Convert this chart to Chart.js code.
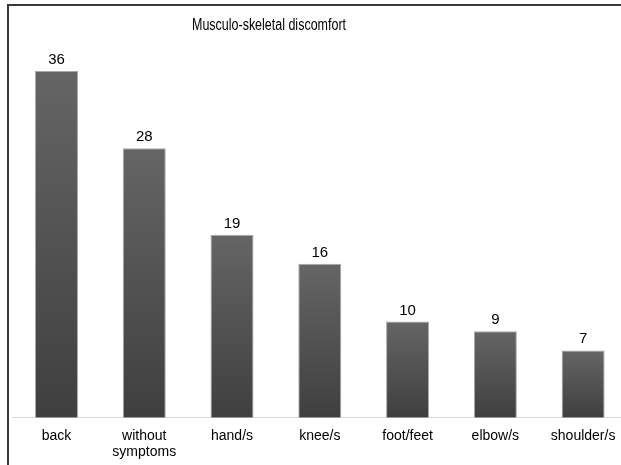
<!DOCTYPE html>
<html>
<head>
<meta charset="utf-8">
<title>Musculo-skeletal discomfort</title>
<script src="https://cdn.jsdelivr.net/npm/chart.js@4"></script>
<style>
  html, body { margin: 0; padding: 0; background: #fff; overflow: hidden; }
  #wrap { position: relative; width: 621px; height: 465px; overflow: hidden; }
  #frame {
    position: absolute; left: 7px; top: 4px; width: 700px; height: 500px;
    border-top: 2px solid #3a3a3a; border-left: 2px solid #3a3a3a;
    pointer-events: none;
  }
  canvas { position: absolute; left: 0; top: 0; }
</style>
</head>
<body>
<div id="wrap">
  <canvas id="mainChart" width="640" height="476" style="width:640px;height:476px"></canvas>
  <div id="frame"></div>
</div>
<script>
const chartTitle = 'Musculo-skeletal discomfort';
const categories = ['back', ['without', 'symptoms'], 'hand/s', 'knee/s', 'foot/feet', 'elbow/s', 'shoulder/s'];
const counts = [36, 28, 19, 16, 10, 9, 7];
const yMax = 40;

// each bar gets its own vertical shade, lighter at its top
function barShade(context) {
  const chart = context.chart;
  const area = chart.chartArea;
  if (!area) return '#555';
  const top = chart.scales.y.getPixelForValue(context.raw);
  const g = chart.ctx.createLinearGradient(0, top, 0, area.bottom);
  g.addColorStop(0, '#656565');
  g.addColorStop(1, '#3f3f3f');
  return g;
}

const titleAndValues = {
  id: 'titleAndValues',
  afterDatasetsDraw(chart) {
    const ctx = chart.ctx;
    ctx.save();
    ctx.fillStyle = '#000';
    ctx.textAlign = 'center';
    ctx.textBaseline = 'alphabetic';
    ctx.font = '16px "Liberation Sans", Arial, sans-serif';
    ctx.fillText(chartTitle, 269, 30, 154);

    ctx.font = '15px "Liberation Sans", Arial, sans-serif';
    const meta = chart.getDatasetMeta(0);
    meta.data.forEach((bar, i) => {
      ctx.fillText(String(counts[i]), bar.x, bar.y - 7);
    });
    ctx.restore();
  }
};

const ctx = document.getElementById('mainChart').getContext('2d');
new Chart(ctx, {
  type: 'bar',
  data: {
    labels: categories,
    datasets: [{
      data: counts,
      backgroundColor: barShade,
      borderColor: '#a8a8a8',
      borderWidth: 1,
      barPercentage: 1,
      categoryPercentage: 0.49
    }]
  },
  options: {
    responsive: false,
    animation: false,
    layout: { padding: { left: 12.6, right: 13, top: 32.6, bottom: 6 } },
    plugins: {
      legend: { display: false },
      title: { display: false },
      tooltip: { enabled: false }
    },
    scales: {
      x: {
        grid: { display: false, drawTicks: false },
        border: { display: true, color: '#d9d9d9', width: 1 },
        ticks: {
          color: '#000',
          padding: 10,
          maxRotation: 0,
          autoSkip: false,
          font: { family: '"Liberation Sans", Arial, sans-serif', size: 14, lineHeight: 1.15 }
        }
      },
      y: {
        display: false,
        min: 0,
        max: yMax
      }
    }
  },
  plugins: [titleAndValues]
});
</script>
</body>
</html>
